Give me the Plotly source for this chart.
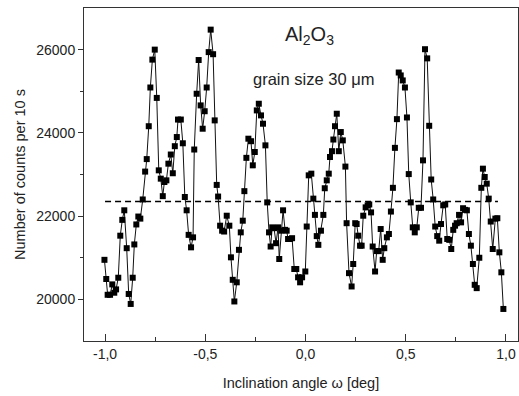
import plotly.graph_objects as go

# Inclination angle (deg)
angle = [
    -1.003, -0.994, -0.987, -0.975, -0.964, -0.954, -0.945, -0.934, -0.924, -0.914,
    -0.904, -0.892, -0.882, -0.872, -0.862, -0.854, -0.844, -0.834, -0.824, -0.812,
    -0.800, -0.792, -0.782, -0.774, -0.764, -0.752, -0.742, -0.732, -0.722, -0.712,
    -0.704, -0.694, -0.684, -0.672, -0.662, -0.652, -0.642, -0.636, -0.622, -0.612,
    -0.602, -0.593, -0.583, -0.571, -0.561, -0.555, -0.543, -0.533, -0.523, -0.513,
    -0.503, -0.493, -0.483, -0.473, -0.461, -0.453, -0.443, -0.436,
    -0.426, -0.416, -0.406, -0.393, -0.380, -0.372, -0.363, -0.355, -0.343, -0.332,
    -0.323, -0.313, -0.305, -0.295, -0.285, -0.272, -0.263, -0.253, -0.243, -0.233,
    -0.222, -0.212, -0.200, -0.191, -0.182, -0.174, -0.166, -0.157, -0.147, -0.137,
    -0.131, -0.121, -0.112, -0.102, -0.094, -0.087, -0.077, -0.067, -0.056, -0.046,
    -0.037, -0.027, -0.017, -0.001, 0.006, 0.016, 0.029, 0.039, 0.047, 0.056,
    0.064, 0.077, 0.089, 0.096, 0.106, 0.116, 0.122, 0.132, 0.139, 0.147,
    0.156, 0.166, 0.176, 0.186, 0.199, 0.205, 0.217, 0.230, 0.238, 0.248,
    0.255, 0.263, 0.272, 0.280, 0.288, 0.300, 0.310, 0.318, 0.327, 0.335,
    0.347, 0.355, 0.365, 0.375, 0.385, 0.393, 0.406, 0.416, 0.426, 0.436,
    0.446, 0.456, 0.465, 0.475, 0.485, 0.496, 0.506, 0.515, 0.525, 0.535,
    0.545, 0.555, 0.565, 0.576, 0.586, 0.596, 0.607, 0.617, 0.627, 0.637,
    0.647, 0.657, 0.667, 0.676, 0.687, 0.697, 0.707, 0.717, 0.727, 0.737,
    0.746, 0.754, 0.766, 0.776, 0.786, 0.796, 0.805, 0.815, 0.825, 0.835,
    0.844, 0.854, 0.867, 0.877, 0.885, 0.894, 0.904, 0.914, 0.924, 0.934,
    0.947, 0.957, 0.967, 0.977, 0.987,
]

# Number of counts per 10 s
counts = [
    20950, 20490, 20110, 20110, 20360, 20160, 20240, 20520, 21530, 21910,
    22140, 21230, 20130, 19890, 20520, 21320, 21800, 21990, 21940, 22400,
    23070, 23370, 24160, 25090, 25760, 26000, 24840, 23100, 22900, 22480,
    22820, 22860, 23260, 23480, 23030, 23680, 23900, 24320, 24320, 23750,
    22460, 22140, 21550, 21250, 21490, 23600, 24940, 25750, 24660, 24100,
    24520, 25090, 25940, 26480, 25890, 24300, 22750, 22470,
    21770, 21650, 21630, 22010, 21770, 21010, 20470, 19950, 20410, 21190,
    21610, 21890, 22600, 23400, 23860, 23800, 23220, 23540, 24540, 24700,
    24420, 24220, 23700, 22330, 21610, 21270, 21730, 21710, 21350, 21730,
    20970, 21650, 22140, 21670, 21650, 21450, 21450, 21470, 20730, 20730,
    20530, 20410, 20530, 20670, 21750, 22980, 23020, 22420, 22030, 21520,
    21310, 21650, 22030, 22670, 22860, 23020, 23420, 23560, 23840, 24160,
    24460, 23560, 24020, 23820, 23190, 21830, 20630, 20310, 20850, 21830,
    21810, 21530, 21290, 21290, 22010, 22210, 22260, 22280, 22090, 21270,
    20670, 21160, 21160, 21690, 20950, 21230, 21490, 21570, 22110, 22680,
    23640, 24330, 25450, 25380, 25260, 25090, 24370, 23010, 22330, 21730,
    21610, 21730, 22200, 22200, 23340, 26010, 25790, 24170, 22880, 22400,
    21750, 21520, 21410, 21810, 22260, 22280, 21450, 21430, 21210, 21670,
    21770, 21830, 22030, 21850, 22190, 22150, 22140, 21570, 21290, 20850,
    20350, 20270, 21000, 22680, 23140, 22940, 22780, 22420, 21870, 21210,
    21940, 21950, 21130, 20650, 19770,
]

# Mean level (dashed line)
mean_x = [-1.0, 0.96]
mean_y = [22350, 22350]

x_tickvals = [-1.0, -0.5, 0.0, 0.5, 1.0]
x_ticktext = ["-1,0", "-0,5", "0,0", "0,5", "1,0"]
y_tickvals = [20000, 22000, 24000, 26000]
y_ticktext = ["20000", "22000", "24000", "26000"]

FONT = "Liberation Sans, Arial, sans-serif"
INK = "#222222"

fig = go.Figure()
fig.add_trace(go.Scatter(
    x=mean_x, y=mean_y, mode="lines",
    line=dict(color="black", width=1.6, dash="6px,4px"),
    hoverinfo="skip", showlegend=False,
))
fig.add_trace(go.Scatter(
    x=angle, y=counts, mode="lines+markers",
    line=dict(color="#111111", width=1),
    marker=dict(symbol="square", size=6, color="black",
                line=dict(color="black", width=0)),
    showlegend=False,
))

fig.update_layout(
    width=519, height=396,
    margin=dict(l=84, r=1, t=8, b=55),
    paper_bgcolor="white", plot_bgcolor="white",
    font=dict(family=FONT, color=INK, size=13),
)
fig.update_xaxes(
    range=[-1.105, 1.06],
    tickvals=x_tickvals, ticktext=x_ticktext,
    ticks="inside", ticklen=7, tickwidth=1, tickcolor="#333",
    minor=dict(tickvals=[-0.75, -0.25, 0.25, 0.75], ticks="inside",
               ticklen=4, tickwidth=1, tickcolor="#333"),
    showline=True, linecolor="#333", linewidth=1, mirror=True,
    showgrid=False, zeroline=False,
    tickfont=dict(size=14, family=FONT, color=INK),
    title=dict(text="Inclination angle \u03c9 [deg]",
               font=dict(size=14.5, family=FONT, color=INK), standoff=17),
)
fig.update_yaxes(
    range=[19000, 27000],
    tickvals=y_tickvals, ticktext=y_ticktext,
    ticks="outside", ticklen=5, tickwidth=1, tickcolor="#333",
    minor=dict(tickvals=[21000, 23000, 25000], ticks="outside",
               ticklen=3, tickwidth=1, tickcolor="#333"),
    showline=True, linecolor="#333", linewidth=1, mirror=True,
    showgrid=False, zeroline=False,
    tickfont=dict(size=14, family=FONT, color=INK),
    title=dict(text="Number of counts per 10 s",
               font=dict(size=14.5, family=FONT, color=INK), standoff=7),
)

fig.add_annotation(
    x=0.02, y=26350, xref="x", yref="y",
    text="Al<sub>2</sub>O<sub>3</sub>", showarrow=False,
    font=dict(size=20, family=FONT, color=INK),
)
fig.add_annotation(
    x=0.04, y=25300, xref="x", yref="y",
    text="grain size 30 \u03bcm", showarrow=False,
    font=dict(size=16.5, family=FONT, color=INK),
)

fig.write_html("out.html")
